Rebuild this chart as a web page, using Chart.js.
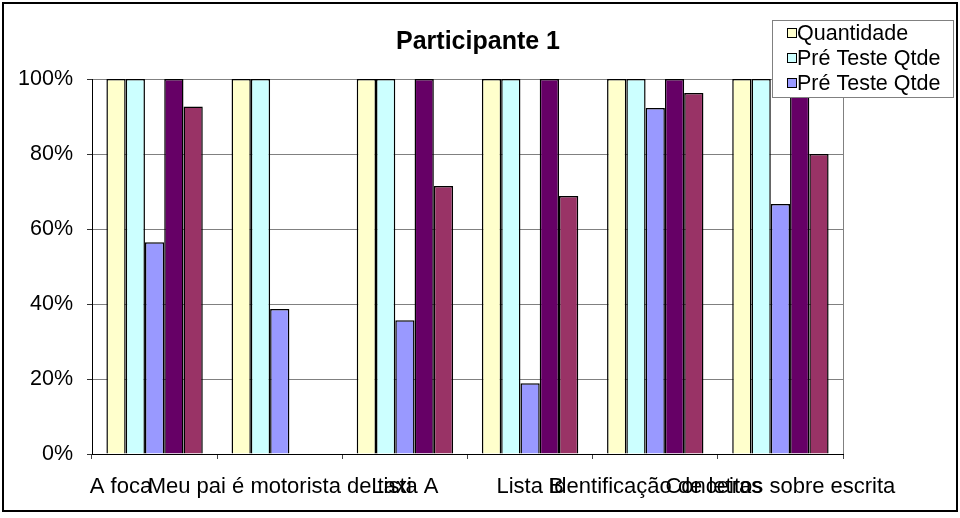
<!DOCTYPE html>
<html>
<head>
<meta charset="utf-8">
<script src="https://cdn.jsdelivr.net/npm/chart.js@4/dist/chart.umd.min.js"></script>
<style>
  html, body { margin: 0; padding: 0; background: #fff; }
  #wrap { width: 960px; height: 518px; }
</style>
</head>
<body>
<div id="wrap"><canvas id="chart" width="960" height="518"></canvas></div>
<script>
'use strict'

// Chart data (fractions of 1, shown as %)
// first label keeps trailing no-break spaces: in the original its tail sits under the next label
const categories = ['A foca\u00A0\u00A0\u00A0\u00A0\u00A0\u00A0\u00A0\u00A0\u00A0\u00A0\u00A0', 'Meu pai é motorista de taxi', 'Lista A', 'Lista B', 'Identificação de letras', 'Conceitos sobre escrita']
const quantidade = [1, 1, 1, 1, 1, 1]
const preTeste1 = [1, 1, 1, 1, 1, 1]
const preTeste2 = [0.565, 0.387, 0.357, 0.189, 0.923, 0.667]
const serie4 = [1, 0, 1, 1, 1, 1]
const serie5 = [0.927, 0, 0.715, 0.688, 0.963, 0.80]
const yTicks = [0, 0.2, 0.4, 0.6, 0.8, 1]

const seriesNames = ['Quantidade', 'Pré Teste Qtde', 'Pré Teste Qtde', 'Série 4', 'Série 5']
const seriesColors = ['#FFFFCC', '#CCFFFF', '#9999FF', '#660066', '#993366']
const legendCount = 3

const FONT = "'Liberation Sans', Arial, sans-serif"

// title, legend box, plot frame and outer border
const decor = {
  id: 'decor',
  beforeDatasetsDraw(chart) {
    const {ctx, chartArea} = chart
    ctx.save()
    ctx.strokeStyle = '#808080'
    ctx.lineWidth = 1
    ctx.beginPath()
    ctx.moveTo(chartArea.right + 0.5, chartArea.top)
    ctx.lineTo(chartArea.right + 0.5, chartArea.bottom)
    ctx.stroke()
    ctx.restore()
  },
  afterDraw(chart) {
    const {ctx} = chart
    ctx.save()
    // title
    ctx.fillStyle = '#000'
    ctx.font = 'bold 25px ' + FONT
    ctx.textAlign = 'center'
    ctx.textBaseline = 'middle'
    ctx.fillText('Participante 1', 478, 42)

    // legend (only the first three series are listed)
    ctx.fillStyle = '#fff'
    ctx.fillRect(772, 20, 181, 77)
    ctx.strokeStyle = '#808080'
    ctx.lineWidth = 1
    ctx.strokeRect(772.5, 20.5, 181, 77)
    ctx.font = '21.5px ' + FONT
    ctx.textAlign = 'left'
    chart.data.datasets.slice(0, legendCount).forEach((ds, i) => {
      const y = 33 + i * 25
      ctx.fillStyle = ds.backgroundColor
      ctx.fillRect(788, y - 4, 8, 8)
      ctx.strokeStyle = '#000'
      ctx.strokeRect(787.5, y - 4.5, 9, 9)
      ctx.fillStyle = '#000'
      ctx.fillText(ds.label, 797, y + 1)
    })

    // outer border
    ctx.strokeStyle = '#000'
    ctx.lineWidth = 2
    ctx.strokeRect(3, 3, 954, 508)
    ctx.restore()
  }
}

const seriesData = [quantidade, preTeste1, preTeste2, serie4, serie5]

const chart = new Chart(
  document.getElementById('chart'),
  {
    type: 'bar',
    data: {
      labels: categories,
      datasets: seriesData.map((d, i) => ({
        label: seriesNames[i],
        data: d,
        backgroundColor: seriesColors[i],
        borderColor: '#000',
        borderWidth: 1.5,
        categoryPercentage: 0.77,
        barPercentage: 1.0
      }))
    },
    options: {
      responsive: false,
      animation: false,
      layout: {
        padding: {left: 0, right: 117, top: 79, bottom: 0}
      },
      plugins: {
        legend: {display: false},
        title: {display: false},
        tooltip: {enabled: false}
      },
      scales: {
        x: {
          grid: {
            display: true,
            drawOnChartArea: false,
            drawTicks: true,
            tickLength: 5,
            tickColor: '#444',
            offset: true
          },
          border: {display: true, color: '#000', width: 1},
          ticks: {
            autoSkip: false,
            maxRotation: 0,
            minRotation: 0,
            padding: 15,
            color: '#000',
            font: {family: FONT, size: 22}
          },
          afterFit: (scale) => { scale.height = 64 }
        },
        y: {
          min: 0,
          max: 1,
          afterBuildTicks: (scale) => { scale.ticks = yTicks.map(v => ({value: v})) },
          grid: {
            color: '#808080',
            lineWidth: 1,
            drawTicks: true,
            tickLength: 5,
            tickColor: '#333'
          },
          border: {display: true, color: '#000', width: 1},
          ticks: {
            padding: 14,
            color: '#000',
            font: {family: FONT, size: 21.5},
            callback: (v) => Math.round(v * 100) + '%'
          },
          afterFit: (scale) => { scale.width = 92 }
        }
      }
    },
    plugins: [decor]
  }
)
</script>
</body>
</html>
